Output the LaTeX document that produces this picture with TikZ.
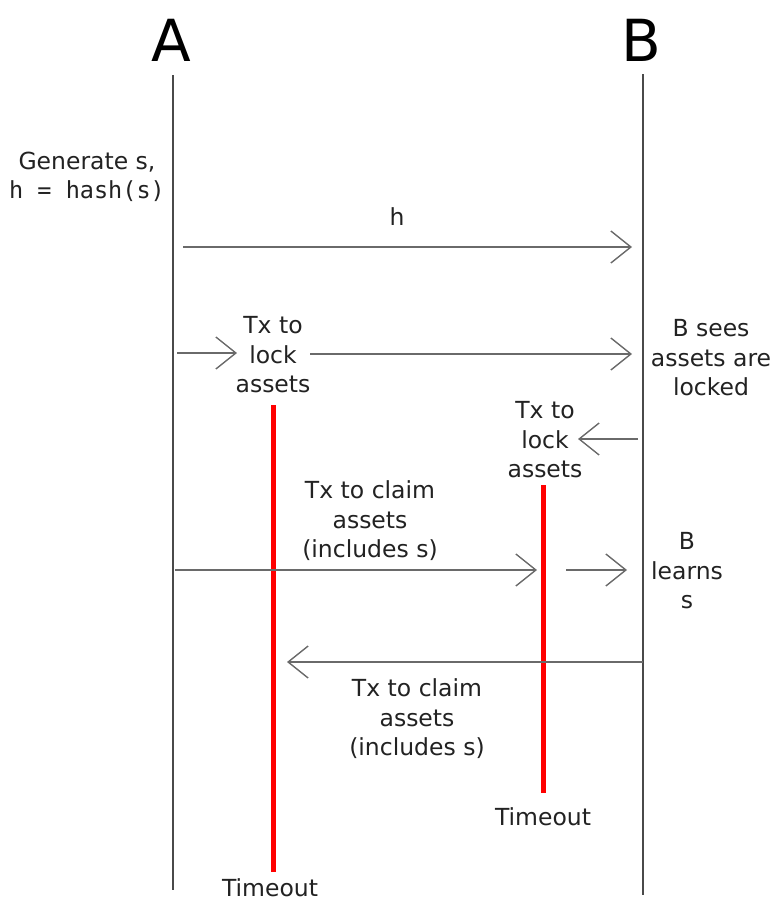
\documentclass[tikz,border=0pt]{standalone}
\usepackage{fontspec}
\setmainfont{DejaVu Sans}
\newfontfamily\monof{DejaVu Sans Mono}
\usetikzlibrary{arrows.meta}
\definecolor{txt}{HTML}{222222}
\definecolor{life}{HTML}{4A4A4A}
\definecolor{arr}{HTML}{6A6A6A}
\tikzset{
  lbl/.style={inner sep=0pt, align=center, text=txt, font=\fontsize{23.5}{29.5}\selectfont},
  actor/.style={inner sep=0pt, text=black, font=\fontsize{58}{60}\selectfont},
  lifeline/.style={draw=life, line width=1.5pt},
  msg/.style={draw=arr, line width=1.4pt, -{Straight Barb[length=20pt,width=32pt,line width=1.4pt]}},
  timer/.style={draw=red, line width=5pt},
}
\begin{document}
\begin{tikzpicture}[x=1pt,y=-1pt]
\useasboundingbox (0,0) rectangle (779,899);
% actors
\node[actor] (A) at (171,40) {A};
\node[actor] (B) at (641,40) {B};
\coordinate (Atop) at (173,75);
\coordinate (Abot) at (173,890);
\coordinate (Btop) at (643,74);
\coordinate (Bbot) at (643,895);
\draw[lifeline] (Atop) -- (Abot);
\draw[lifeline] (Btop) -- (Bbot);
% texts
\node[lbl] (gen) at (87,177) {Generate s,\\{\monof h = hash(s)}};
\node[lbl] (hl) at (397,217) {h};
\node[lbl] (lockA) at (273,355) {Tx to\\lock\\assets};
\node[lbl] (sees) at (711,358) {B sees\\assets are\\locked};
\node[lbl] (lockB) at (545,440) {Tx to\\lock\\assets};
\node[lbl] (claimA) at (370,521) {Tx to claim\\assets\\(includes s)};
\node[lbl] (learns) at (687,571) {B\\learns\\s};
\node[lbl] (claimB) at (417,719) {Tx to claim\\assets\\(includes s)};
\node[lbl] (toB) at (543,817) {Timeout};
\node[lbl] (toA) at (270,888) {Timeout};
% arrow end points
\coordinate (h1) at (183,247);
\coordinate (h2) at (632,247);
\coordinate (l1) at (177,353);
\coordinate (l2) at (237,353);
\coordinate (l3) at (310,354);
\coordinate (l4) at (632,354);
\coordinate (b1) at (638,439);
\coordinate (b2) at (578,439);
\coordinate (c1) at (175,570);
\coordinate (c2) at (537,570);
\coordinate (c3) at (566,570);
\coordinate (c4) at (627,570);
\coordinate (d1) at (643,662);
\coordinate (d2) at (287,662);
% timers
\coordinate (rA1) at (273,405);
\coordinate (rA2) at (273,872);
\coordinate (rB1) at (543,485);
\coordinate (rB2) at (543,793);
\draw[timer] (rA1) -- (rA2);
\draw[timer] (rB1) -- (rB2);
% messages
\draw[msg] (h1) -- (h2);
\draw[msg] (l1) -- (l2);
\draw[msg] (l3) -- (l4);
\draw[msg] (b1) -- (b2);
\draw[msg] (c1) -- (c2);
\draw[msg] (c3) -- (c4);
\draw[msg] (d1) -- (d2);
\end{tikzpicture}
\end{document}
